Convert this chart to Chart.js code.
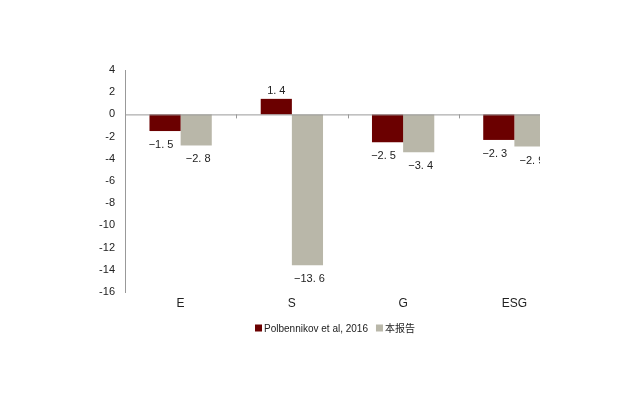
<!DOCTYPE html>
<html><head><meta charset="utf-8">
<script src="https://cdn.jsdelivr.net/npm/chart.js@4"></script>
<style>body{margin:0;background:#fff}#w{width:540px;height:400px;overflow:hidden;position:relative}canvas{position:absolute;left:0;top:0}</style>
</head><body><div id="w"><canvas id="c" width="640" height="400" style="width:640px;height:400px"></canvas></div>
<script>
const categories=["E","S","G","ESG"];
const seriesNames=["Polbennikov et al, 2016","本报告"];
const polbennikov=[-1.5,1.4,-2.5,-2.3];
const report=[-2.8,-13.6,-3.4,-2.9];
const colors=["#6b0000","#b9b7a9"];
const font="Arial, 'Liberation Sans', 'Noto Sans CJK SC', sans-serif";
const fmt=v=>(v<0?"−":"")+Math.abs(v).toFixed(1).replace(".",". ");
const deco={id:"deco",afterDraw(ch){
  const c=ch.ctx,x=ch.scales.x,y=ch.scales.y,a=ch.chartArea;
  c.save();
  const y0=y.getPixelForValue(0);
  c.strokeStyle="#999";c.lineWidth=1;
  c.beginPath();c.moveTo(a.left,y0+0.5);c.lineTo(a.right,y0+0.5);c.stroke();
  for(let i=0;i<=categories.length;i++){const px=Math.round(a.left+(a.right-a.left)*i/categories.length)+0.5;c.beginPath();c.moveTo(px,y0);c.lineTo(px,y0+4);c.stroke();}
  c.fillStyle="#222";c.font="11px "+font;c.textAlign="center";c.textBaseline="alphabetic";
  ch.data.datasets.forEach((ds,di)=>{ch.getDatasetMeta(di).data.forEach((b,i)=>{
    const v=ds.data[i];const ty=v>=0?b.y-5:b.y+17;
    c.fillText(fmt(v),b.x+(v<0?(di===0?-4:2):0),ty);});});
  // legend
  c.font="10px "+font;c.textAlign="left";c.textBaseline="middle";
  let lx=255;const ly=328;
  seriesNames.forEach((n,i)=>{c.fillStyle=colors[i];c.fillRect(lx,ly-3.5,7,7);c.fillStyle="#222";c.fillText(n,lx+9,ly+1);lx+=9+c.measureText(n).width+8;});
  c.restore();}};
new Chart(document.getElementById("c"),{type:"bar",
 data:{labels:categories,datasets:[
  {label:seriesNames[0],data:polbennikov,backgroundColor:colors[0]},
  {label:seriesNames[1],data:report,backgroundColor:colors[1]}]},
 options:{responsive:false,animation:false,
  layout:{padding:{left:0,right:70,top:70,bottom:88}},
  datasets:{bar:{categoryPercentage:0.56,barPercentage:1}},
  plugins:{legend:{display:false},tooltip:{enabled:false}},
  scales:{
   x:{grid:{display:false,drawTicks:false},border:{display:false},
      ticks:{color:"#222",font:{size:12,family:font},padding:4},afterFit(s){s.height=20;}},
   y:{min:-16,max:4,grid:{display:false,drawTicks:true,tickLength:4,color:"#999"},
      border:{display:true,color:"#999"},
      ticks:{stepSize:2,color:"#222",font:{size:11,family:font},padding:6},
      afterFit(s){s.width=125;}}}},
 plugins:[deco]});
</script></body></html>
